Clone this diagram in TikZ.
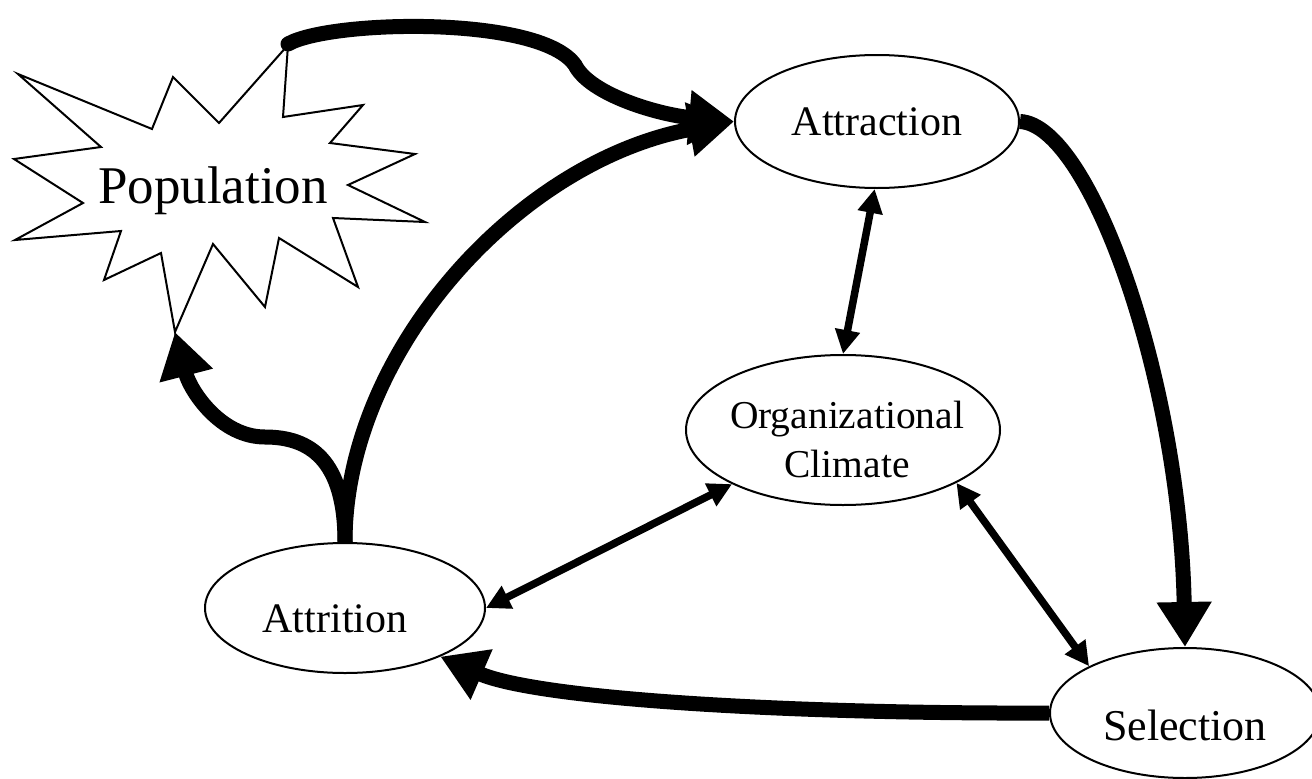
\documentclass[tikz,border=0pt]{standalone}
\usepackage{fontspec}
\setmainfont{Liberation Serif}
\usetikzlibrary{arrows.meta,shapes.geometric}
\begin{document}
\begin{tikzpicture}[x=1pt,y=-1pt,
  ell/.style={draw=black,line width=2pt,ellipse,inner sep=0pt,fill=white},
  lbl/.style={anchor=base,inner sep=0pt},
  bigarrow/.style={draw=black,line width=15pt,-{Triangle[length=45pt,width=52pt]}},
  duo/.style={draw=black,line width=7.5pt,{Triangle[length=24pt,width=24pt]}-{Triangle[length=24pt,width=24pt]}}]
\useasboundingbox (0,0) rectangle (1312,779);
% starburst
\draw[line width=2pt,line join=miter,fill=white]
  (288,45) -- (283,117) -- (363,105) -- (330,143) -- (415,154) -- (348,185)
  -- (425,222) -- (333,218) -- (358,287) -- (279,238) -- (265,307) -- (213,244)
  -- (175,332) -- (161,253) -- (104,280) -- (121,231) -- (15,240) -- (83,203)
  -- (14,159) -- (101,147) -- (18,74) -- (152,129) -- (173,77) -- (219,123) -- cycle;
\coordinate (popTop) at (288,44);
\coordinate (popBottom) at (175,332);
\node[lbl] (population) at (213,203) {\fontsize{53}{60}\selectfont Population};
% ellipses
\node[ell,minimum width=284pt,minimum height=133pt] (attraction) at (877,121.5) {};
\node[ell,minimum width=314pt,minimum height=150pt] (climate) at (843,430) {};
\node[ell,minimum width=280pt,minimum height=130pt] (attrition) at (345,608) {};
\node[ell,minimum width=270pt,minimum height=130pt] (selection) at (1185,713) {};
% labels
\node[lbl] (tAttraction) at (877,135) {\fontsize{42}{50}\selectfont Attraction};
\node[lbl] (tOrg) at (847,428) {\fontsize{39.5}{48}\selectfont Organizational};
\node[lbl] (tClimate) at (847,477) {\fontsize{39.5}{48}\selectfont Climate};
\node[lbl] (tAttrition) at (335,632) {\fontsize{42}{50}\selectfont Attrition};
\node[lbl] (tSelection) at (1185,740) {\fontsize{44}{52}\selectfont Selection};
% thick arrows
\draw[bigarrow,line cap=round] (popTop) .. controls (330,20) and (540,15) .. (575,65)
  .. controls (590,95) and (660,115) .. (attraction.west);
\draw[bigarrow] (attrition.north) .. controls (345,350) and (520,160) .. (attraction.west);
\draw[bigarrow] (attrition.north) .. controls (345,460) and (310,437) .. (265,437)
  .. controls (220,437) and (190,390) .. (popBottom);
\draw[bigarrow] (attraction.east) .. controls (1090,125) and (1180,380) .. (selection.north);
\draw[bigarrow] (selection.west) .. controls (800,714) and (540,700) .. (attrition.-27);
% thin double arrows
\draw[duo] (attraction.268) -- (climate.north);
\draw[duo] (attrition.east) -- (climate.-154.5);
\draw[duo] (climate.-25.3) -- (selection.154.2);
\end{tikzpicture}
\end{document}
